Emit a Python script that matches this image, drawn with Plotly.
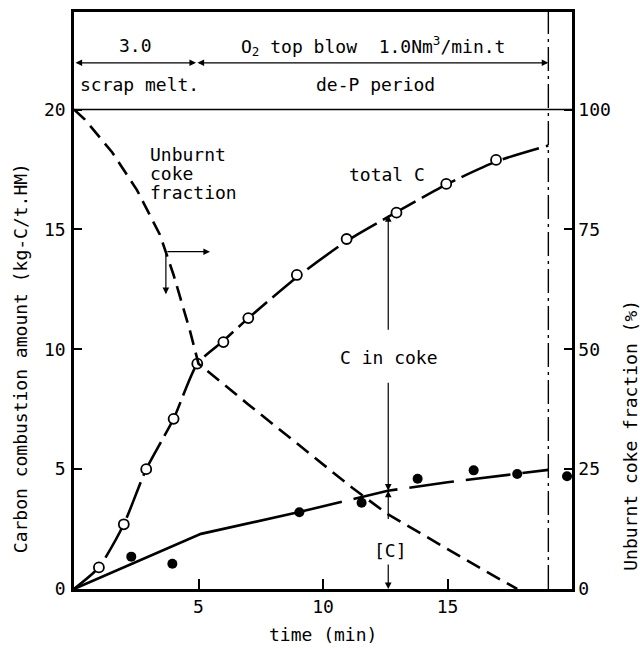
import plotly.graph_objects as go

# ---- data ----
total_t = [1.0, 2.0, 2.9, 4.0, 4.95, 6.0, 7.0, 8.95, 10.95, 12.95, 14.95, 16.95]
total_c = [0.9, 2.7, 5.0, 7.1, 9.4, 10.3, 11.3, 13.1, 14.6, 15.7, 16.9, 17.9]

total_curve_t = [0, 1.0, 2.0, 2.9, 4.0, 4.95, 6.0, 7.0, 9.0, 11.0, 13.0, 15.0, 17.0, 19.05]
total_curve_c = [0, 0.9, 2.7, 5.0, 7.1, 9.4, 10.35, 11.3, 13.05, 14.55, 15.75, 16.9, 17.85, 18.5]

coke_t = [2.3, 3.95, 9.05, 11.55, 13.8, 16.05, 17.8, 19.8]
coke_c = [1.35, 1.05, 3.2, 3.6, 4.6, 4.95, 4.8, 4.7]

coke_curve_t1 = [0, 5.1, 9.0]
coke_curve_c1 = [0, 2.3, 3.2]
coke_curve_t2 = [9.0, 12.6, 15.0, 19.05]
coke_curve_c2 = [3.2, 4.1, 4.45, 4.97]

unburnt_t = [0, 0.44, 1.53, 2.53, 3.45, 4.0, 4.65, 5.0, 7.0, 9.2, 11.2, 12.6, 15.1, 16.6, 17.8]
unburnt_pct = [100, 97.9, 91.1, 83.2, 73.9, 65.5, 54, 47, 38.5, 29.3, 21, 15.6, 8, 3.5, 0]

x_ticks = [5, 10, 15]
y_ticks = [0, 5, 10, 15, 20]
y2_ticks = [0, 25, 50, 75, 100]

end_time = 19.05
period_split = 4.9
Y_TOP = 24.07

FONT = "DejaVu Sans Mono"
FS = 18

fig = go.Figure()

fig.add_trace(go.Scatter(x=total_curve_t, y=total_curve_c, mode="lines",
                         line=dict(color="black", width=2.6, dash="38px,7px", shape="spline", smoothing=0.6),
                         showlegend=False, hoverinfo="skip"))
fig.add_trace(go.Scatter(x=coke_curve_t1, y=coke_curve_c1, mode="lines",
                         line=dict(color="black", width=2.6),
                         showlegend=False, hoverinfo="skip"))
fig.add_trace(go.Scatter(x=coke_curve_t2, y=coke_curve_c2, mode="lines",
                         line=dict(color="black", width=2.6, dash="45px,12px"),
                         showlegend=False, hoverinfo="skip"))
fig.add_trace(go.Scatter(x=unburnt_t, y=unburnt_pct, mode="lines", yaxis="y2",
                         line=dict(color="black", width=2.6, dash="15px,8px"),
                         showlegend=False, hoverinfo="skip"))
fig.add_trace(go.Scatter(x=total_t, y=total_c, mode="markers",
                         marker=dict(symbol="circle", size=10, color="white",
                                     line=dict(color="black", width=1.8)),
                         showlegend=False, cliponaxis=False))
fig.add_trace(go.Scatter(x=coke_t, y=coke_c, mode="markers",
                         marker=dict(symbol="circle", size=10, color="black"),
                         showlegend=False, cliponaxis=False))

shapes = [
    dict(type="line", xref="x", yref="y", x0=0, x1=20, y0=20, y1=20,
         line=dict(color="black", width=1.5)),
    dict(type="line", xref="x", yref="y", x0=end_time, x1=end_time, y0=0, y1=Y_TOP,
         line=dict(color="black", width=1.4, dash="24px,5px,3px,5px")),
]

def arrow(x, y, ax, ay, both=False):
    return dict(x=x, y=y, ax=ax, ay=ay, xref="x", yref="y", axref="x", ayref="y",
                text="", showarrow=True, arrowhead=2, arrowsize=1.1, arrowwidth=1.2,
                arrowside="end+start" if both else "end", arrowcolor="black",
                startarrowhead=2, startarrowsize=1.1, standoff=0, startstandoff=0)

def label(x, y, text, xanchor="center"):
    return dict(x=x, y=y, xref="x", yref="y", text=text, showarrow=False,
                xanchor=xanchor, yanchor="middle", font=dict(family=FONT, size=FS, color="black"))

NB = "\u00a0"
annotations = [
    arrow(period_split, 21.95, 0, 21.95, both=True),
    arrow(end_time, 21.95, period_split, 21.95, both=True),
    label(2.45, 22.66, "3.0"),
    label(12.0, 22.66, "O<sub>2</sub> top blow" + NB + NB + "1.0Nm<sup>3</sup>/min.t"),
    label(2.65, 21.04, "scrap melt."),
    label(12.1, 21.04, "de-P period"),
    label(2.97, 18.13, "Unburnt", "left"),
    label(2.97, 17.34, "coke", "left"),
    label(2.97, 16.56, "fraction", "left"),
    label(12.57, 17.3, "total C"),
    label(12.65, 9.67, "C in coke"),
    label(12.7, 1.62, "[C]"),
    arrow(3.69, 12.3, 3.69, 14.07),
    arrow(5.46, 14.07, 3.69, 14.07),
    arrow(12.62, 15.6, 12.62, 10.75),
    arrow(12.62, 4.1, 12.62, 8.67),
    arrow(12.62, 4.1, 12.62, 2.86),
    arrow(12.62, 0, 12.62, 1.08),
    dict(x=(20 - 74) / 498, y=(589 - 357) / 580, xref="paper", yref="paper",
         text="Carbon combustion amount (kg-C/t.HM)", textangle=-90, showarrow=False,
         xanchor="center", yanchor="middle", font=dict(family=FONT, size=FS, color="black")),
    dict(x=(631 - 74) / 498, y=(589 - 435) / 580, xref="paper", yref="paper",
         text="Unburnt coke fraction (%)", textangle=-90, showarrow=False,
         xanchor="center", yanchor="middle", font=dict(family=FONT, size=FS, color="black")),
    dict(x=0.5, y=-(635 - 589) / 580, xref="paper", yref="paper",
         text="time (min)", showarrow=False, xanchor="center", yanchor="middle",
         font=dict(family=FONT, size=FS, color="black")),
]

fig.update_layout(
    width=640, height=648,
    margin=dict(l=74, r=68, t=9, b=59),
    paper_bgcolor="white", plot_bgcolor="white",
    font=dict(family=FONT, size=FS, color="black"),
    xaxis=dict(range=[0, 20], showgrid=False, zeroline=False, showline=True,
               linecolor="black", linewidth=2.5, mirror=True,
               ticks="inside", ticklen=10, tickwidth=2, tickcolor="black",
               tickvals=x_ticks, ticktext=[str(v) for v in x_ticks]),
    yaxis=dict(range=[0, Y_TOP], showgrid=False, zeroline=False, showline=True,
               linecolor="black", linewidth=2.5,
               ticks="inside", ticklen=8, tickwidth=1.5, tickcolor="black",
               tickvals=y_ticks, ticktext=[str(v) for v in y_ticks], ticklabelstandoff=2),
    yaxis2=dict(range=[0, Y_TOP * 5], overlaying="y", side="right", showgrid=False,
                zeroline=False, showline=True, linecolor="black", linewidth=2.5,
                ticks="inside", ticklen=8, tickwidth=1.5, tickcolor="black",
                tickvals=y2_ticks, ticktext=[str(v) for v in y2_ticks], ticklabelstandoff=0),
    shapes=shapes, annotations=annotations,
)

fig.write_html("out.html")
